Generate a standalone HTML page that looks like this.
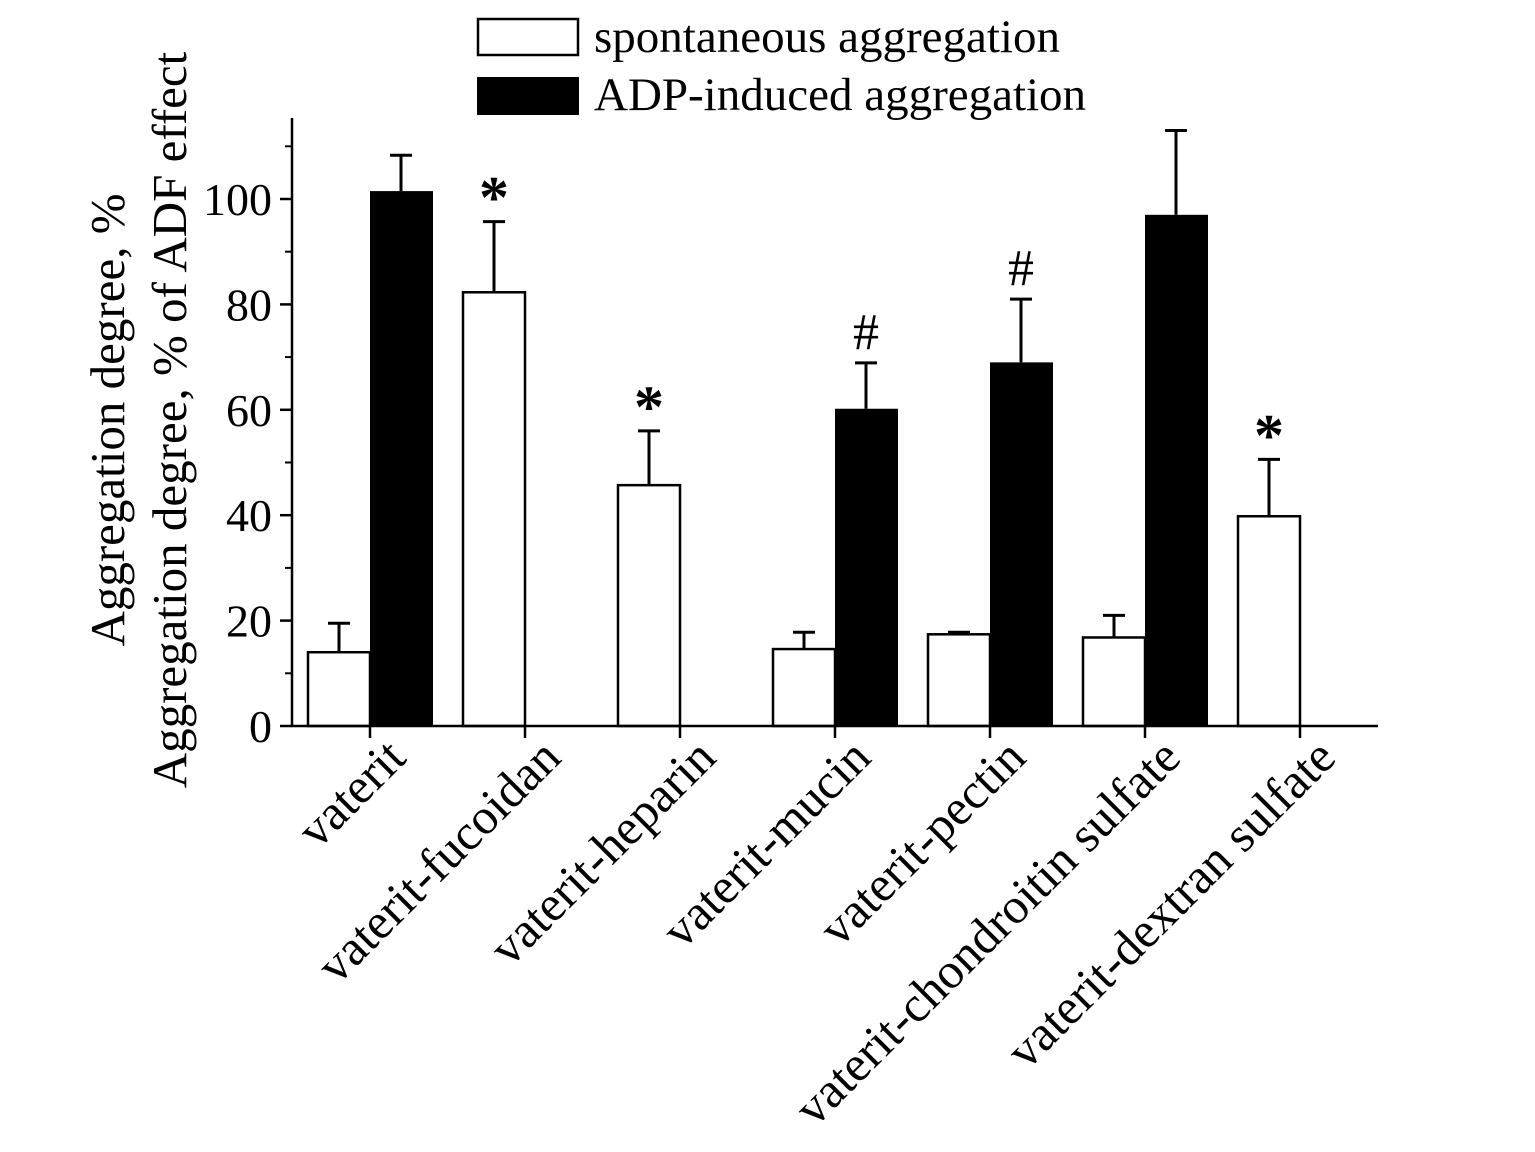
<!DOCTYPE html>
<html><head><meta charset="utf-8"><style>
html,body{margin:0;padding:0;background:#fff;}
svg{display:block;font-family:"Liberation Serif",serif;}
</style></head><body>
<svg id="chart" width="1535" height="1152" viewBox="0 0 1535 1152">
<g>
<rect x="478" y="19" width="100" height="36" fill="#fff" stroke="#000" stroke-width="2.5"/>
<text x="594" y="52" font-size="47">spontaneous aggregation</text>
<rect x="477" y="77" width="102" height="38" fill="#000"/>
<text x="594" y="110" font-size="47">ADP-induced aggregation</text>
</g>
<g>
<text transform="translate(124,420) rotate(-90)" text-anchor="middle" font-size="49">Aggregation degree, %</text>
<text transform="translate(186,420) rotate(-90)" text-anchor="middle" font-size="49">Aggregation degree, % of ADF effect</text>
</g>
<g id="plot"></g>
</svg>
<script>
const categories=["vaterit","vaterit-fucoidan","vaterit-heparin","vaterit-mucin","vaterit-pectin","vaterit-chondroitin sulfate","vaterit-dextran sulfate"];
const spontValues=[14,82.3,45.7,14.6,17.4,16.8,39.8];
const spontErrors=[5.5,13.4,10.3,3.2,0.4,4.2,10.8];
const adpValues=[101.5,null,null,60.2,69,97,null];
const adpErrors=[6.8,null,null,8.7,12,16,null];
const marks=["","*","*","#","#","","*"];
const yTicks=[0,20,40,60,80,100];
const yMinor=[10,30,50,70,90,110];
const NS="http://www.w3.org/2000/svg";
const g=document.getElementById('plot');
const y0=726,pxPer=5.27,x0=370,step=155,bw=62;
const yS=v=>y0-v*pxPer;
const xS=i=>x0+i*step;
function mk(tag,attrs){const e=document.createElementNS(NS,tag);for(const k in attrs)e.setAttribute(k,attrs[k]);g.appendChild(e);return e;}
function errBar(cx,v,e,name){
 const l=mk('path',{d:`M${cx},${yS(v)}V${yS(v+e)}M${cx-11},${yS(v+e)}H${cx+11}`,stroke:'#000','stroke-width':3,fill:'none'});
 
 
}
categories.forEach((c,i)=>{
 const cx=xS(i);
 const v=spontValues[i];
 errBar(cx-bw/2,v,spontErrors[i],'error-bar-spontaneous');
 const r=mk('rect',{x:cx-bw,y:yS(v),width:bw,height:v*pxPer,fill:'#fff',stroke:'#000','stroke-width':2.5});
 
 
 if(adpValues[i]!=null){
  const a=adpValues[i];
  errBar(cx+bw/2,a,adpErrors[i],'error-bar-adp');
  const b=mk('rect',{x:cx,y:yS(a),width:bw+1,height:a*pxPer,fill:'#000'});
  
  
 }
 if(marks[i]){
  const useAdp=adpValues[i]!=null;
  const top=useAdp?adpValues[i]+adpErrors[i]:spontValues[i]+spontErrors[i];
  const mx=useAdp?cx+bw/2:cx-bw/2;
  const star=marks[i]=='*';
  const t=mk('text',{x:mx,y:yS(top)-(star?4:14),'text-anchor':'middle','font-size':star?60:52,'font-weight':star?'bold':'normal'});
  t.textContent=marks[i];
  
  
 }
 const tk=mk('line',{x1:cx,y1:y0,x2:cx,y2:y0+12,stroke:'#000','stroke-width':2.5});
 
 
 const lb=mk('text',{transform:`translate(${cx+38},${y0+34}) rotate(-45)`,'text-anchor':'end','font-size':50});
 lb.textContent=c;
 
 
});
const ax=mk('path',{d:`M292,118V${y0}H1378`,stroke:'#000','stroke-width':2.5,fill:'none'});


yTicks.forEach(v=>{
 const t=mk('line',{x1:280,y1:yS(v),x2:292,y2:yS(v),stroke:'#000','stroke-width':2.5});
 
 
 const l=mk('text',{x:272,y:yS(v)+16,'text-anchor':'end','font-size':46});
 l.textContent=v;
 
 
});
yMinor.forEach(v=>{
 const t=mk('line',{x1:285,y1:yS(v),x2:292,y2:yS(v),stroke:'#000','stroke-width':2});
 
 
});
</script>
</body></html>
